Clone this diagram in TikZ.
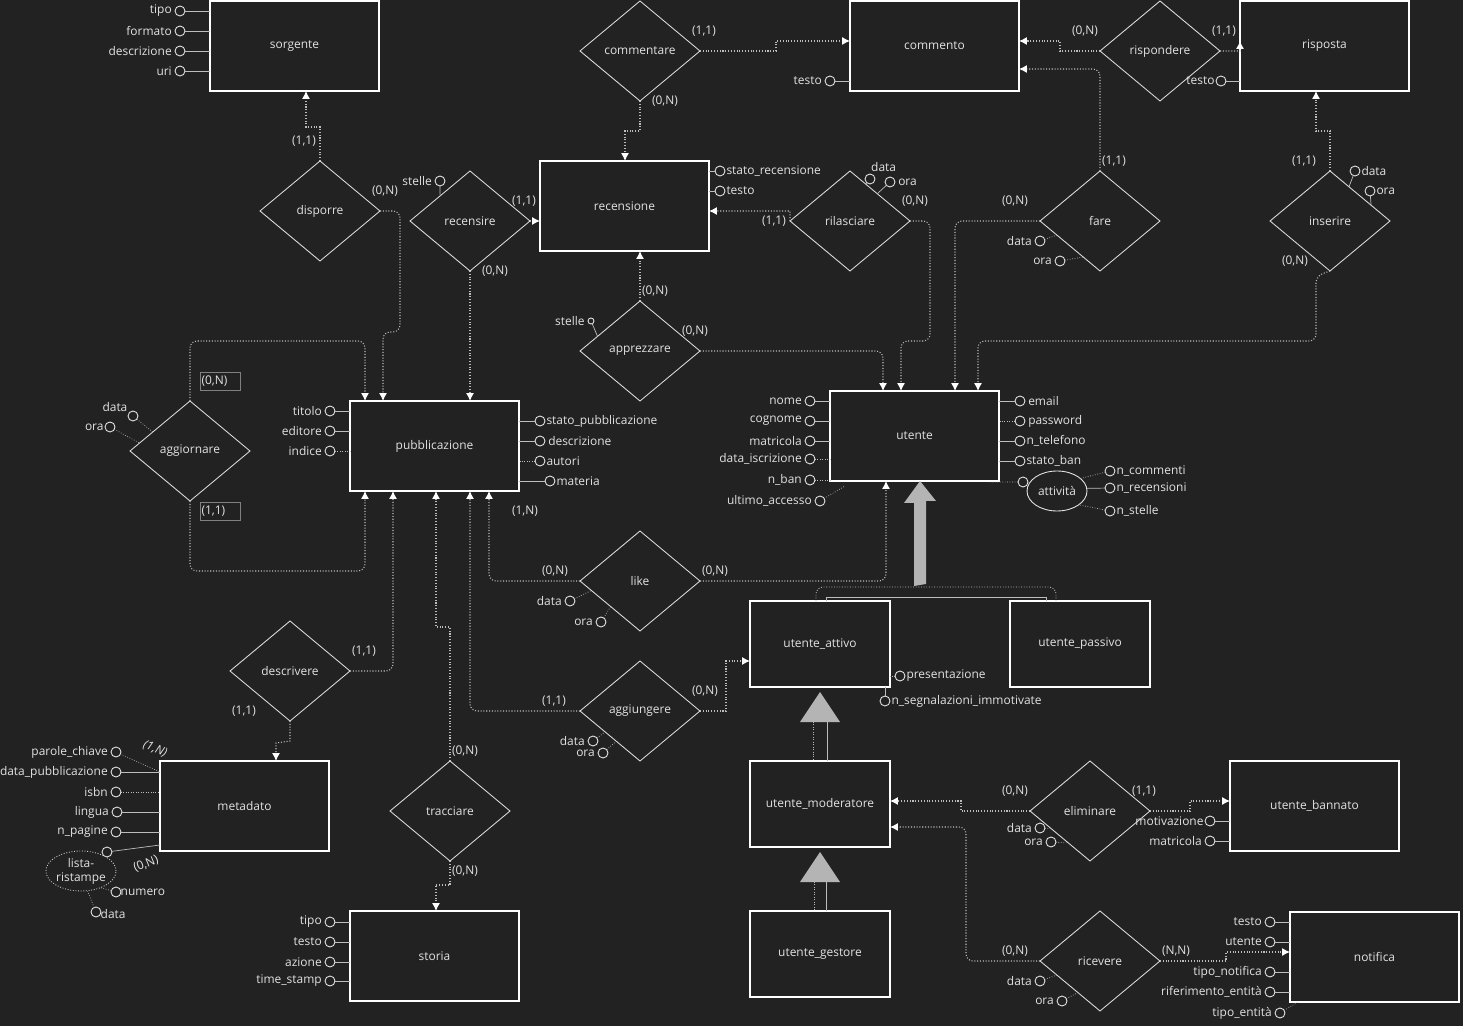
\documentclass[tikz,border=0pt]{standalone}
\usepackage{fontspec}
\setmainfont{Open Sans}
\usetikzlibrary{shapes.geometric,arrows.meta,positioning,calc}
\definecolor{bgc}{HTML}{222222}
\definecolor{txt}{HTML}{E2E2E2}
\definecolor{lnc}{HTML}{BDBDBD}
\definecolor{isag}{HTML}{B4B4B4}
\newcommand{\att}[6][aln]{\node[att] (#2) at (#3) {}; \node[lbl,#5] (#2t) at (#2) {#6}; \draw[#1] (#2) -- (#4);}
\newcommand{\card}[3]{\node[lbl] (#1) at (#2) {#3};}

\begin{document}
\begin{tikzpicture}[x=0.02cm,y=-0.02cm,
    every node/.style={font=\fontsize{6.8}{8}\selectfont,text=txt},
    ent/.style={draw=white,line width=0.8pt,fill=bgc,minimum width=3.38cm,minimum height=1.8cm,inner sep=0,outer sep=0},
    sub/.style={ent,minimum width=2.8cm,minimum height=1.72cm},
    rel/.style={diamond,draw=white!85!black,line width=0.5pt,fill=bgc,minimum width=2.4cm,minimum height=2cm,inner sep=0,outer sep=0},
    att/.style={circle,draw=white!90!black,line width=0.5pt,minimum size=0.2cm,inner sep=0,outer sep=0},
    lbl/.style={inner sep=0.5pt},
    aln/.style={draw=lnc,line width=0.4pt},
    cn/.style={draw=lnc,densely dotted,line width=0.6pt,-{Latex[length=4.5pt,width=4.5pt,color=white]}},
    rc/.style={rounded corners=4pt},
    cbox/.style={lbl,draw=gray,line width=0.5pt,text width=0.74cm,align=left,inner sep=0.03cm,minimum height=0.36cm}]
\fill[bgc] (0,0) rectangle (1463,1026);
\useasboundingbox (0,0) rectangle (1463,1026);

% entita
\node[ent] (sorg) at (294.5,46) {sorgente};
\node[ent] (comm) at (934.5,46) {commento};
\node[ent] (risp) at (1324.5,46) {risposta};
\node[ent] (rece) at (624.5,206) {recensione};
\node[ent] (pubb) at (434.5,446) {pubblicazione};
\node[ent] (uten) at (914.5,436) {utente};
\node[sub] (uatt) at (820,644) {utente\_attivo};
\node[sub] (upas) at (1080,644) {utente\_passivo};
\node[sub] (umod) at (820,804) {utente\_moderatore};
\node[sub] (uges) at (820,954) {utente\_gestore};
\node[ent] (uban) at (1314.5,806) {utente\_bannato};
\node[ent] (noti) at (1374.5,957) {notifica};
\node[ent] (meta) at (244.5,806) {metadato};
\node[ent] (stor) at (434.5,956) {storia};

% relazioni
\node[rel] (cmnt) at (640,51) {commentare};
\node[rel] (rspd) at (1160,51) {rispondere};
\node[rel] (disp) at (320,211) {disporre};
\node[rel] (recs) at (470,221) {recensire};
\node[rel] (rila) at (850,221) {rilasciare};
\node[rel] (fare) at (1100,221) {fare};
\node[rel] (inse) at (1330,221) {inserire};
\node[rel] (appr) at (640,351) {apprezzare};
\node[rel] (aggo) at (190,451) {aggiornare};
\node[rel] (like) at (640,581) {like};
\node[rel] (aggu) at (640,711) {aggiungere};
\node[rel] (desc) at (290,671) {descrivere};
\node[rel] (trac) at (450,811) {tracciare};
\node[rel] (elim) at (1090,811) {eliminare};
\node[rel] (ricv) at (1100,961) {ricevere};

% attributi
\att{so1}{180,11}{so1 -| sorg.west}{left=4pt}{tipo}
\att{so2}{180,31}{so2 -| sorg.west}{left=4pt}{formato}
\att{so3}{180,51}{so3 -| sorg.west}{left=4pt}{descrizione}
\att{so4}{180,71}{so4 -| sorg.west}{left=4pt}{uri}
\att{co1}{830,81}{co1 -| comm.west}{left=4pt}{testo}
\att{ri1}{1221,81}{ri1 -| risp.west}{left=3pt}{testo}
\att{re1}{720,171}{re1 -| rece.east}{right=3pt}{stato\_recensione}
\att{re2}{720,191}{re2 -| rece.east}{right=3pt}{testo}
\att{rs1}{440,181}{recs.140}{left=4pt}{stelle}
\att{rl1}{870,179}{rila.67}{above right=3.5pt and 0pt}{data}
\att{rl2}{890,182}{rila.45}{right=4pt}{ora}
\att[aln,densely dotted]{fa1}{1040,241}{fare.198}{left=4pt}{data}
\att[aln,densely dotted]{fa2}{1060,261}{fare.245}{left=4pt}{ora}
\att{in1}{1355,171}{inse.61}{right=3pt}{data}
\att{in2}{1370,191}{inse.21}{right=3pt}{ora}
\node[att,minimum size=0.12cm] (ap1) at (591,321) {};
\node[lbl,left=3pt] (ap1t) at (ap1) {stelle};
\draw[aln] (ap1) -- (appr.161);
\att[aln,densely dotted]{ag1}{133,416}{aggo.153}{above left=2pt and 2.5pt}{data}
\att[aln,densely dotted]{ag2}{110,427}{aggo.171}{left=3pt}{ora}
\att{pu1}{330,411}{pu1 -| pubb.west}{left=4pt}{titolo}
\att{pu2}{330,431}{pu2 -| pubb.west}{left=4pt}{editore}
\att[aln,densely dotted]{pu3}{330,451}{pu3 -| pubb.west}{left=4pt}{indice}
\att{pu4}{540,421}{pu4 -| pubb.east}{right=3pt}{stato\_pubblicazione}
\att{pu5}{540,441}{pu5 -| pubb.east}{right=4pt}{descrizione}
\att[aln,densely dotted]{pu6}{540,461}{pu6 -| pubb.east}{right=3pt}{autori}
\att{pu7}{550,481}{pu7 -| pubb.east}{right=3pt}{materia}
\att{ut1}{810,401}{ut1 -| uten.west}{left=4pt}{nome}
\att{ut2}{810,421}{ut2 -| uten.west}{left=4pt}{cognome}
\att{ut3}{810,441}{ut3 -| uten.west}{left=4pt}{matricola}
\att[aln,densely dotted]{ut4}{810,459}{ut4 -| uten.west}{left=4pt}{data\_iscrizione}
\att[aln,densely dotted]{ut5}{810,480}{ut5 -| uten.west}{left=4pt}{n\_ban}
\att[aln,densely dotted]{ut6}{820,501}{$(uten.south west)+(15,5)$}{left=4pt}{ultimo\_accesso}
\att{ut7}{1020,401}{ut7 -| uten.east}{right=4pt}{email}
\att[aln,densely dotted]{ut8}{1020,421}{ut8 -| uten.east}{right=4pt}{password}
\att{ut9}{1020,441}{ut9 -| uten.east}{right=3pt}{n\_telefono}
\att{ut10}{1020,461}{ut10 -| uten.east}{right=3pt}{stato\_ban}
\node[att] (atc) at (1023,482) {};
\draw[aln,densely dotted] ($(uten.south east)+(-9,1)$) -- (atc);
\node[ellipse,draw=white!90!black,line width=0.5pt,minimum width=1.2cm,minimum height=0.8cm,inner sep=0] (attv) at (1057,491) {attività};
\att[aln,densely dotted]{av1}{1110,471}{attv.28}{right=3pt}{n\_commenti}
\att{av2}{1110,488}{attv.5}{right=3pt}{n\_recensioni}
\att[aln,densely dotted]{av3}{1110,511}{attv.-32}{right=3pt}{n\_stelle}
\att[aln,densely dotted]{lk1}{570,601}{like.191}{left=4pt}{data}
\att[aln,densely dotted]{lk2}{601,622}{like.221}{left=4pt}{ora}
\att[aln,densely dotted]{gu1}{593,741}{aggu.211}{left=4pt}{data}
\att[aln,densely dotted]{gu2}{603,753}{aggu.232}{left=4pt}{ora}
\att[aln,densely dotted]{ua1}{900,676}{ua1 -| uatt.east}{right=3pt}{presentazione}
\att{ua2}{885,701}{ua2 |- uatt.south}{right=3pt}{n\_segnalazioni\_immotivate}
\att[aln,densely dotted]{me1}{116,752}{$(meta.west)+(0,-34)$}{left=4pt}{parole\_chiave}
\att{me2}{116,772}{me2 -| meta.west}{left=4pt}{data\_pubblicazione}
\att[aln,densely dotted]{me3}{116,792}{me3 -| meta.west}{left=4pt}{isbn}
\att{me4}{117,812}{me4 -| meta.west}{left=4pt}{lingua}
\att{me5}{116,832}{me5 -| meta.west}{left=4pt}{n\_pagine}
\node[att] (me6) at (107,852) {};
\draw[aln] (me6) -- ($(meta.south west)+(0,-6)$);
\node[ellipse,draw=white!80!black,densely dotted,line width=0.5pt,minimum width=1.2cm,minimum height=0.8cm,inner sep=0,align=center] (list) at (81,871) {lista-\\ristampe};
\att[aln,densely dotted]{me7}{116,892}{list.-40}{right=2pt}{numero}
\att[aln,densely dotted]{me8}{96,912}{list.-72}{below right=-2pt and 2pt}{data}
\att{st1}{330,922}{st1 -| stor.west}{left=4pt}{tipo}
\att{st2}{330,942}{st2 -| stor.west}{left=4pt}{testo}
\att{st3}{330,962}{st3 -| stor.west}{left=4pt}{azione}
\att{st4}{330,981}{st4 -| stor.west}{left=4pt}{time\_stamp}
\att[aln,densely dotted]{el1}{1040,828}{elim.205}{left=4pt}{data}
\att[aln,densely dotted]{el2}{1051,842}{elim.236}{left=4pt}{ora}
\att{ub1}{1210,821}{ub1 -| uban.west}{left=3pt}{motivazione}
\att{ub2}{1210,841}{ub2 -| uban.west}{left=4pt}{matricola}
\att{no1}{1270,922}{no1 -| noti.west}{left=4pt}{testo}
\att{no2}{1270,942}{no2 -| noti.west}{left=4pt}{utente}
\att{no3}{1270,972}{no3 -| noti.west}{left=4pt}{tipo\_notifica}
\att{no4}{1270,992}{no4 -| noti.west}{left=4pt}{riferimento\_entità}
\att[aln,densely dotted]{no5}{1280,1013}{$(noti.south west)+(8,0)$}{left=4pt}{tipo\_entità}
\att[aln,densely dotted]{rc1}{1040,981}{ricv.198}{left=4pt}{data}
\att[aln,densely dotted]{rc2}{1062,1001}{ricv.235}{left=4pt}{ora}

% collegamenti
\draw[cn] (disp.north) -- (320,127) -- (306,127) -- (306,0 |- sorg.south);
\draw[cn,rc] (disp.east) -- (400,211) -- (400,332) -- (383,332) -- (383,0 |- pubb.north);
\draw[cn] (recs.south) -- (470,0 |- pubb.north);
\draw[cn] (recs.east) -- (recs.east -| rece.west);
\draw[cn,rc] (aggo.north) -- (190,341) -- (365,341) -- (365,0 |- pubb.north);
\draw[cn,rc] (aggo.south) -- (190,571) -- (365,571) -- (365,0 |- pubb.south);
\draw[cn,rc] (desc.east) -- (393,671) -- (393,0 |- pubb.south);
\draw[cn] (desc.south) -- (290,741) -- (276,743) -- (276,0 |- meta.north);
\draw[cn] (trac.north) -- (450,627) -- (436,627) -- (436,0 |- pubb.south);
\draw[cn] (trac.south) -- (450,885) -- (436,885) -- (436,0 |- stor.north);
\draw[cn,rc] (aggu.west) -- (470,711) -- (470,0 |- pubb.south);
\draw[cn] (aggu.east) -- (726,711) -- (726,661) -- (726,661 -| uatt.west);
\draw[cn,rc] (like.west) -- (489,581) -- (489,0 |- pubb.south);
\draw[cn,rc] (like.east) -- (886,581) -- (886,0 |- uten.south);
\draw[cn] (cmnt.east) -- (776,51) -- (776,41) -- (776,41 -| comm.west);
\draw[cn] (cmnt.south) -- (640,131) -- (625,131) -- (625,0 |- rece.north);
\draw[cn] (rspd.west) -- (1060,51) -- (1060,41) -- (1060,41 -| comm.east);
\draw[cn] (rspd.east) -- (1240,51) -- ($(risp.west)+(0,-5)$);
\draw[cn,rc] (fare.north) -- (1100,69) -- (1100,69 -| comm.east);
\draw[cn,rc] (fare.west) -- (955,221) -- (955,0 |- uten.north);
\draw[cn] (inse.north) -- (1330,131) -- (1316,131) -- (1316,0 |- risp.south);
\draw[cn,rc] (inse.south) -- (1316,276) -- (1316,341) -- (978,341) -- (978,0 |- uten.north);
\draw[cn] (rila.west) -- (790,211) -- (790,211 -| rece.east);
\draw[cn,rc] (rila.east) -- (930,221) -- (930,341) -- (901,341) -- (901,0 |- uten.north);
\draw[cn] (appr.north) -- (640,0 |- rece.south);
\draw[cn,rc] (appr.east) -- (883,351) -- (883,0 |- uten.north);
\draw[cn] (elim.west) -- (961,811) -- (961,801) -- (961,801 -| umod.east);
\draw[cn] (elim.east) -- (1190,811) -- (1190,801) -- (1190,801 -| uban.west);
\draw[cn,rc] (ricv.west) -- (966,961) -- (966,827) -- (966,827 -| umod.east);
\draw[cn] (ricv.east) -- (1226,961) -- (1226,952) -- (1226,952 -| noti.west);

% cardinalita
\card{k1}{304,141}{(1,1)} \card{k2}{385,191}{(0,N)}
\card{k3}{524,201}{(1,1)} \card{k4}{495,271}{(0,N)}
\card{k5}{704,31}{(1,1)} \card{k6}{665,101}{(0,N)}
\card{k7}{774,221}{(1,1)} \card{k8}{915,201}{(0,N)}
\card{k9}{1085,31}{(0,N)} \card{k10}{1224,31}{(1,1)}
\card{k11}{1114,161}{(1,1)} \card{k12}{1015,201}{(0,N)}
\card{k13}{1304,161}{(1,1)} \card{k14}{1295,261}{(0,N)}
\card{k15}{655,291}{(0,N)} \card{k16}{695,331}{(0,N)}
\card{k17}{525,511}{(1,N)} \card{k18}{555,571}{(0,N)}
\card{k19}{715,571}{(0,N)} \card{k20}{554,701}{(1,1)}
\card{k21}{705,691}{(0,N)} \card{k22}{364,651}{(1,1)}
\card{k23}{244,711}{(1,1)} \card{k24}{465,751}{(0,N)}
\card{k25}{465,871}{(0,N)} \card{k26}{1015,791}{(0,N)}
\card{k27}{1144,791}{(1,1)} \card{k28}{1015,951}{(0,N)}
\card{k29}{1176,951}{(N,N)}
\node[cbox] (k30) at (220,381) {(0,N)};
\node[cbox] (k31) at (220,511) {(1,1)};
\node[lbl,rotate=-22,font=\fontsize{6.8}{8}\selectfont\itshape] (k32) at (155,749) {(1,N)};
\node[lbl,rotate=22] (k33) at (146,864) {(0,N)};

% gerarchie
\draw[draw=lnc,densely dotted,line width=0.5pt,rc] (816,0 |- uatt.north) -- (816,587) -- (1056,587) -- (1056,0 |- upas.north);
\draw[aln] (826,0 |- uatt.north) -- (826,597) -- (1046,597) -- (1046,0 |- upas.north);
\coordinate (isa) at (920,586);
\fill[isag] (isa) ++(-6,0) -- ++(0,-83) -- ++(-10,0) -- (isa |- uten.south) -- ++(16,20) -- ++(-10,0) -- ++(0,83) -- cycle;
\fill[isag] (800,722) -- ($(uatt.south)+(0,5)$) -- (840,722) -- cycle;
\draw[aln,densely dotted] (813,722) -- (813,0 |- umod.north);
\draw[aln] (827,722) -- (827,0 |- umod.north);
\fill[isag] (800,882) -- ($(umod.south)+(0,5)$) -- (840,882) -- cycle;
\draw[aln,densely dotted] (814,882) -- (814,0 |- uges.north);
\draw[aln] (826,882) -- (826,0 |- uges.north);
\end{tikzpicture}
\end{document}
